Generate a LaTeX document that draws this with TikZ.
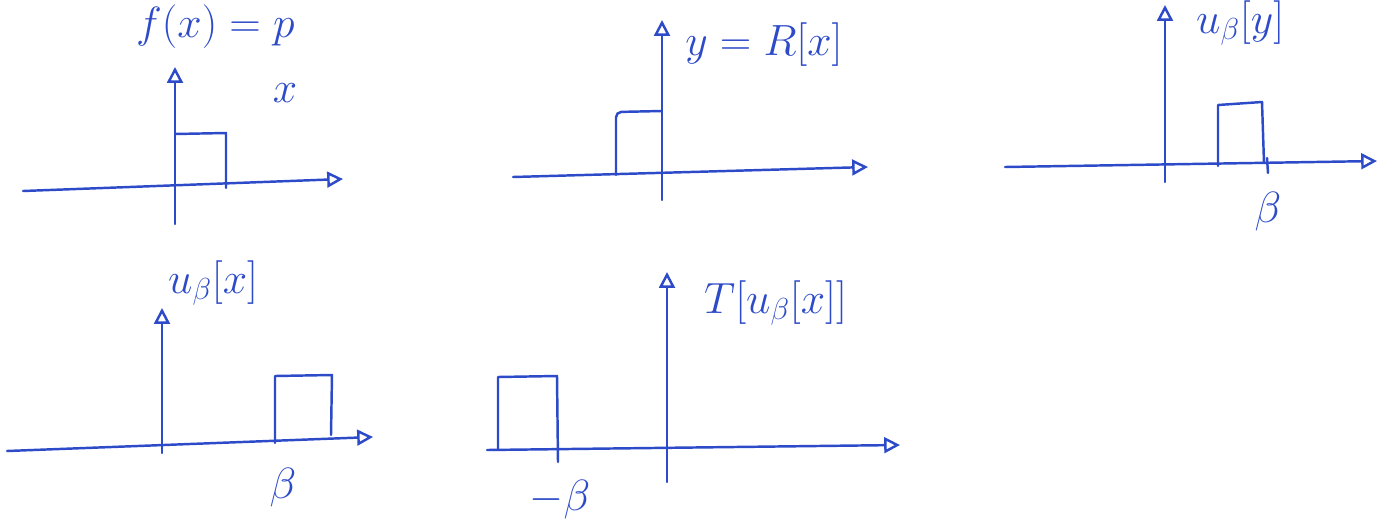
\documentclass[tikz,border=0pt]{standalone}
\usetikzlibrary{arrows.meta}
\definecolor{inchiostro}{RGB}{45,75,200}

\begin{document}
\begin{tikzpicture}[x=0.02cm, y=-0.02cm, line width=1.4pt, color=inchiostro, line cap=round, line join=round]
			% Stili per assi ed etichette
			\tikzset{asse/.style={-{Triangle[open,length=9pt,width=9pt]}},
				etichetta/.style={font=\fontsize{24}{28}\selectfont, inner sep=0pt}}
			
			\useasboundingbox (0,0) rectangle (1383,528);
			
			% Testo in alto
			\node[etichetta, anchor=base west] (titolo) at (135,37) {$f(x) = p$};
			
			% Grafico 1: impulso in x
			\coordinate (H1a) at (23,191);
			\coordinate (H1b) at (343,179);
			\coordinate (V1a) at (175,224);
			\coordinate (V1b) at (175,67);
			\draw[asse] (H1a) -- (H1b);
			\draw[asse] (V1a) -- (V1b);
			\draw (175,134) -- (226,133) -- (226,188);
			\node[etichetta] (lx) at (285,93) {$x$};
			
			% Grafico 2: y = R[x]
			\coordinate (H2a) at (513,177);
			\coordinate (H2b) at (868,167);
			\coordinate (V2a) at (662,200);
			\coordinate (V2b) at (662,20);
			\draw[asse] (H2a) -- (H2b);
			\draw[asse] (V2a) -- (V2b);
			\draw[rounded corners=3pt] (616,175) -- (616,112) -- (662,111);
			\node[etichetta] (lR) at (764,45) {$y = R[x]$};
			
			% Grafico 3: u_beta[y]
			\coordinate (H3a) at (1005,167);
			\coordinate (H3b) at (1377,161);
			\coordinate (V3a) at (1165,182);
			\coordinate (V3b) at (1165,5);
			\draw[asse] (H3a) -- (H3b);
			\draw[asse] (V3a) -- (V3b);
			\draw (1218,166) -- (1218,105) -- (1262,102) -- (1264,163);
			\draw (1267,158) -- (1268,173);
			\node[etichetta] (lb3) at (1268,212) {$\beta$};
			\node[etichetta, anchor=base west] (lu3) at (1195,33) {$u_\beta[y]$};
			
			% Grafico 4: u_beta[x]
			\coordinate (H4a) at (7,451);
			\coordinate (H4b) at (373,437);
			\coordinate (V4a) at (162,453);
			\coordinate (V4b) at (162,308);
			\draw[asse] (H4a) -- (H4b);
			\draw[asse] (V4a) -- (V4b);
			\draw (275,443) -- (275,376) -- (332,375) -- (331,435);
			\node[etichetta] (lb4) at (283,488) {$\beta$};
			\node[etichetta, anchor=base west] (lu4) at (167,293) {$u_\beta[x]$};
			
			% Grafico 5: T[u_beta[x]]
			\coordinate (H5a) at (487,450);
			\coordinate (H5b) at (900,445);
			\coordinate (V5a) at (667,482);
			\coordinate (V5b) at (667,272);
			\draw[asse] (H5a) -- (H5b);
			\draw[asse] (V5a) -- (V5b);
			\draw (498,450) -- (498,377) -- (557,376) -- (558,462);
			\node[etichetta] (lb5) at (560,500) {$-\beta$};
			\node[etichetta, anchor=west] (lT) at (703,303) {$T\Big[u_\beta[x]\Big]$};
		\end{tikzpicture}
\end{document}
